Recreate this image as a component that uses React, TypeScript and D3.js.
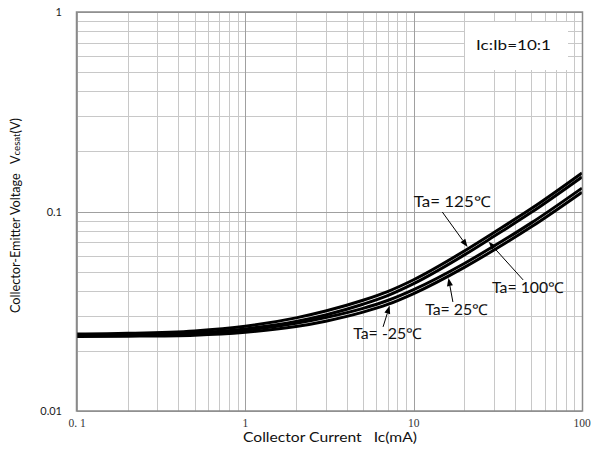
import React from "react";
import * as d3 from "d3";

const currents = [0.1, 0.2, 0.5, 1, 2, 3, 5, 7, 10, 20, 30, 50, 100];
const v125 = [0.0243, 0.0245, 0.0252, 0.0266, 0.0293, 0.0317, 0.0359, 0.0397, 0.0455, 0.0634, 0.0785, 0.1034, 0.156];
const v100 = [0.024, 0.0241, 0.0246, 0.0258, 0.0281, 0.0303, 0.0343, 0.0379, 0.0435, 0.0606, 0.0751, 0.099, 0.149];
const v25 = [0.0238, 0.0239, 0.0244, 0.0254, 0.0275, 0.0294, 0.0327, 0.0358, 0.0406, 0.0549, 0.0671, 0.0877, 0.131];
const vm25 = [0.0236, 0.0237, 0.024, 0.0248, 0.0265, 0.0282, 0.0313, 0.0342, 0.0388, 0.0525, 0.0641, 0.0838, 0.125];
const seriesList = [v125, v100, v25, vm25];

const xTickValues = [0.1, 1, 10, 100];
const xTickLabels = ["0. 1", "1", "10", "100"];
const yTickValues = [0.01, 0.1, 1];
const yTickLabels = ["0.01", "0.1", "1"];

// annotations: label anchor (Ic, V), arrow start (Ic, V), arrow tip (Ic, V)
const annLabels = ["Ta= 125\u2103", "Ta= 100\u2103", "Ta= 25\u2103", "Ta= -25\u2103"];
const annLabelPos = [[10, 0.1054], [29.2, 0.039], [11.7, 0.0303], [4.37, 0.023]];
const annFrom = [[14.8, 0.0994], [44.7, 0.0454], [17.1, 0.0352], [6.58, 0.0264]];
const annTip = [[20.9, 0.0664], [27.9, 0.0705], [16.1, 0.0464], [7.2, 0.0337]];
const annWidths = [77, 72, 63, 69];

const W = 593;
const H = 454;
const L = 77, R = 582, T = 12, B = 411;

export default function App() {
  const x = d3.scaleLog().domain([0.1, 100]).range([L, R]);
  const y = d3.scaleLog().domain([0.01, 1]).range([B, T]);

  const minorX: number[] = [];
  for (const dec of [0.1, 1, 10]) for (let k = 2; k <= 9; k++) minorX.push(dec * k);
  const minorY: number[] = [];
  for (const dec of [0.01, 0.1]) for (let k = 2; k <= 9; k++) minorY.push(dec * k);

  const line = d3
    .line<number>()
    .x((_, i) => x(currents[i]))
    .y((d) => y(d))
    .curve(d3.curveMonotoneX);

  const sans = "Lato, 'Liberation Sans', sans-serif";

  return (
    <svg width={W} height={H} style={{ position: "absolute", left: 0, top: 0, background: "#fff" }}>
      <rect x={0} y={0} width={W} height={H} fill="#fff" />
      {minorX.map((v, i) => (
        <line key={"mx" + i} x1={Math.round(x(v)) + 0.5} x2={Math.round(x(v)) + 0.5} y1={T} y2={B} stroke="#c8c8c8" strokeWidth={1} />
      ))}
      {minorY.map((v, i) => (
        <line key={"my" + i} y1={Math.round(y(v)) + 0.5} y2={Math.round(y(v)) + 0.5} x1={L} x2={R} stroke="#c8c8c8" strokeWidth={1} />
      ))}
      {xTickValues.map((v, i) => (
        <line key={"Mx" + i} x1={Math.round(x(v)) + 0.5} x2={Math.round(x(v)) + 0.5} y1={T} y2={B} stroke="#a0a0a0" strokeWidth={1} />
      ))}
      {yTickValues.map((v, i) => (
        <line key={"My" + i} y1={Math.round(y(v)) + 0.5} y2={Math.round(y(v)) + 0.5} x1={L} x2={R} stroke="#a0a0a0" strokeWidth={1} />
      ))}
      <rect x={465} y={22} width={103} height={48} fill="#fff" />
      <text x={476} y={50} fontFamily={sans} fontSize={13} fill="#111" textLength={75} lengthAdjust="spacingAndGlyphs">
        Ic:Ib=10:1
      </text>
      {seriesList.map((s, i) => (
        <path key={"s" + i} d={line(s) || ""} fill="none" stroke="#000" strokeWidth={3} />
      ))}
      <rect x={L - 0.5} y={T} width={R - L + 1} height={B - T} fill="none" stroke="#8a8a8a" strokeWidth={1.5} />
      {annLabels.map((t, i) => {
        const x0 = x(annFrom[i][0]);
        const y0 = y(annFrom[i][1]);
        const x1 = x(annTip[i][0]);
        const y1 = y(annTip[i][1]);
        const ang = Math.atan2(y1 - y0, x1 - x0);
        const hl = 8, hw = 3;
        const bx = x1 - hl * Math.cos(ang);
        const by = y1 - hl * Math.sin(ang);
        const px = -Math.sin(ang) * hw;
        const py = Math.cos(ang) * hw;
        return (
          <g key={"a" + i}>
            <line x1={x0} y1={y0} x2={bx} y2={by} stroke="#000" strokeWidth={1} />
            <path d={`M${x1},${y1}L${bx + px},${by + py}L${bx - px},${by - py}Z`} fill="#000" />
            <text x={x(annLabelPos[i][0])} y={y(annLabelPos[i][1])} fontFamily={sans} fontSize={15} fill="#111" textLength={annWidths[i]} lengthAdjust="spacingAndGlyphs">
              {t}
            </text>
          </g>
        );
      })}
      {yTickValues.map((v, i) => (
        <text key={"yl" + i} x={62} y={y(v) + 4} textAnchor="end" fontFamily={sans} fontSize={11} fill="#222">
          {yTickLabels[i]}
        </text>
      ))}
      {xTickValues.map((v, i) => (
        <text key={"xl" + i} x={x(v)} y={427} textAnchor="middle" fontFamily="'Liberation Serif', 'DejaVu Serif', serif" fontSize={11.5} fill="#333">
          {xTickLabels[i]}
        </text>
      ))}
      <text x={243} y={442} fontFamily={sans} fontSize={12.5} fill="#111" xmlSpace="preserve" textLength={174} lengthAdjust="spacingAndGlyphs">
        {"Collector Current   Ic(mA)"}
      </text>
      <text transform={`translate(20, 313) rotate(-90)`} fontFamily={sans} fontSize={12.5} fill="#111" xmlSpace="preserve" textLength={195} lengthAdjust="spacingAndGlyphs">
        {"Collector-Emitter Voltage   V"}
        <tspan fontSize={9.5}>cesat</tspan>
        <tspan>(V)</tspan>
      </text>
    </svg>
  );
}
